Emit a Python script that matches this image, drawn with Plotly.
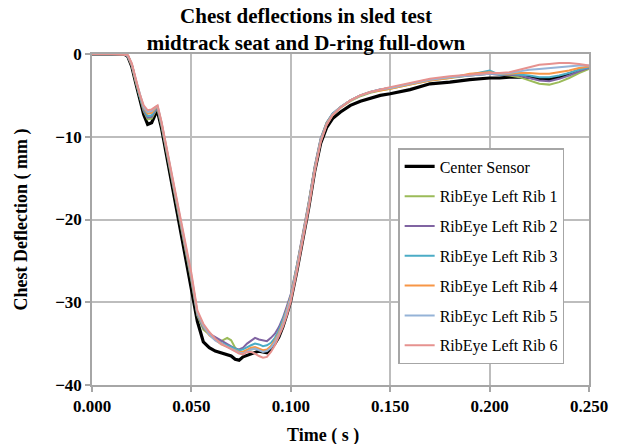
import plotly.graph_objects as go

time_s = [0.000, 0.010, 0.016, 0.018, 0.020, 0.022, 0.024, 0.026, 0.028, 0.030,
          0.032, 0.033, 0.035, 0.038, 0.041, 0.044, 0.047, 0.050, 0.053, 0.056,
          0.059, 0.062, 0.065, 0.068, 0.070, 0.072, 0.074, 0.076, 0.078, 0.080,
          0.082, 0.084, 0.086, 0.088, 0.090, 0.092, 0.094, 0.096, 0.098, 0.100,
          0.103, 0.106, 0.109, 0.112, 0.115, 0.118, 0.121, 0.125, 0.130, 0.135,
          0.140, 0.145, 0.150, 0.160, 0.170, 0.180, 0.190, 0.200, 0.205, 0.210,
          0.215, 0.220, 0.225, 0.230, 0.235, 0.240, 0.245, 0.250]

center_sensor = [0, 0, 0, -0.3, -1.5, -3.5, -5.5, -7.3, -8.5, -8.3,
                 -7.2, -7.0, -9.0, -12.8, -16.6, -20.4, -24.2, -28.5, -32.3, -34.8,
                 -35.5, -35.9, -36.1, -36.4, -36.5, -36.9, -37.0, -36.6, -36.4, -36.3,
                 -36.1, -35.9, -36.0, -36.1, -35.6, -35.0, -34.2, -33.0, -31.5, -29.8,
                 -26.3, -22.6, -18.6, -14.2, -10.8, -8.9, -7.8, -7.0, -6.2, -5.7,
                 -5.3, -5.0, -4.8, -4.3, -3.6, -3.4, -3.1, -2.9, -2.9, -2.8,
                 -2.8, -2.8, -3.0, -3.1, -2.8, -2.4, -1.9, -1.6]

rib1 = [0, 0, 0, -0.3, -1.4, -3.4, -5.3, -6.9, -7.9, -7.8,
        -6.9, -6.7, -8.7, -12.4, -16.1, -19.8, -23.5, -27.4, -31.6, -33.3,
        -33.9, -34.3, -34.7, -34.3, -34.6, -35.5, -35.9, -36.0, -35.8, -35.7,
        -35.6, -35.7, -35.9, -35.8, -35.4, -34.7, -33.8, -32.6, -31.1, -29.5,
        -26.0, -22.3, -18.3, -14.0, -10.5, -8.5, -7.4, -6.5, -5.7, -5.1,
        -4.7, -4.4, -4.2, -3.7, -3.2, -2.9, -2.6, -2.4, -2.5, -2.6,
        -2.8, -3.2, -3.6, -3.7, -3.4, -2.9, -2.3, -1.8]

rib2 = [0, 0, 0, -0.3, -1.4, -3.3, -5.2, -6.8, -7.7, -7.6,
        -6.8, -6.6, -8.6, -12.3, -16.0, -19.7, -23.3, -27.2, -31.5, -33.1,
        -33.8, -34.2, -34.6, -35.0, -35.3, -35.6, -35.7, -35.5, -35.0, -34.6,
        -34.3, -34.5, -34.6, -34.7, -34.3, -33.8, -33.0, -31.9, -30.5, -29.0,
        -25.6, -21.9, -17.9, -13.6, -10.2, -8.3, -7.2, -6.4, -5.6, -5.0,
        -4.6, -4.3, -4.1, -3.6, -3.1, -2.8, -2.6, -2.4, -2.5, -2.5,
        -2.6, -2.9, -3.2, -3.3, -3.0, -2.6, -2.1, -1.7]

rib3 = [0, 0, 0, -0.2, -1.3, -3.2, -5.1, -6.6, -7.5, -7.4,
        -6.6, -6.5, -8.5, -12.2, -15.9, -19.6, -23.2, -27.1, -31.4, -33.0,
        -33.9, -34.5, -34.9, -35.2, -35.4, -35.6, -35.8, -35.7, -35.4, -35.2,
        -35.0, -35.1, -35.3, -35.2, -34.9, -34.3, -33.4, -32.2, -30.8, -29.2,
        -25.7, -22.0, -18.0, -13.7, -10.3, -8.3, -7.2, -6.4, -5.6, -5.0,
        -4.6, -4.3, -4.1, -3.6, -3.1, -2.8, -2.5, -2.0, -2.5, -2.4,
        -2.5, -2.6, -2.8, -2.8, -2.6, -2.3, -1.9, -1.6]

rib4 = [0, 0, 0, -0.2, -1.3, -3.2, -5.0, -6.5, -7.2, -7.1,
        -6.5, -6.4, -8.4, -12.1, -15.8, -19.5, -23.1, -27.0, -31.3, -32.9,
        -34.0, -34.6, -35.1, -35.4, -35.6, -35.8, -36.0, -36.0, -35.7, -35.5,
        -35.4, -35.6, -35.8, -35.7, -35.3, -34.6, -33.7, -32.5, -31.0, -29.3,
        -25.8, -22.1, -18.1, -13.8, -10.4, -8.4, -7.3, -6.4, -5.6, -5.0,
        -4.6, -4.4, -4.2, -3.7, -3.2, -2.9, -2.4, -2.2, -2.4, -2.4,
        -2.3, -2.3, -2.4, -2.4, -2.2, -2.0, -1.7, -1.5]

rib5 = [0, 0, 0, -0.2, -1.2, -3.1, -4.9, -6.4, -7.0, -6.9,
        -6.4, -6.3, -8.3, -12.0, -15.6, -19.3, -22.9, -26.8, -31.2, -32.8,
        -33.9, -34.6, -35.0, -35.4, -35.6, -35.9, -36.1, -36.2, -35.9, -35.7,
        -35.6, -35.8, -36.0, -35.9, -35.5, -34.8, -33.9, -32.7, -31.2, -29.5,
        -26.0, -22.3, -18.3, -14.0, -10.5, -8.5, -7.3, -6.4, -5.6, -5.0,
        -4.6, -4.3, -4.1, -3.6, -3.1, -2.8, -2.6, -2.4, -2.4, -2.3,
        -2.1, -1.9, -1.8, -1.7, -1.6, -1.5, -1.4, -1.4]

rib6 = [0, 0, -0.1, -0.1, -1.1, -3.0, -4.8, -6.2, -6.8, -6.7,
        -6.3, -6.2, -8.2, -11.8, -15.4, -19.1, -22.7, -26.5, -31.0, -32.6,
        -33.6, -34.4, -35.0, -35.4, -35.7, -36.0, -36.2, -36.3, -36.0, -36.0,
        -36.2, -36.5, -36.7, -36.6, -36.0, -35.2, -34.2, -33.0, -31.6, -29.9,
        -26.4, -22.7, -18.7, -14.3, -10.7, -8.6, -7.4, -6.5, -5.6, -5.0,
        -4.6, -4.3, -4.0, -3.5, -3.0, -2.7, -2.5, -2.3, -2.3, -2.2,
        -1.9, -1.6, -1.3, -1.2, -1.1, -1.1, -1.2, -1.4]

series_names = ["Center Sensor", "RibEye Left Rib 1", "RibEye Left Rib 2",
                "RibEye Left Rib 3", "RibEye Left Rib 4", "RibEyc Left Rib 5",
                "RibEye Left Rib 6"]
series_values = [center_sensor, rib1, rib2, rib3, rib4, rib5, rib6]
series_colors = ["#000000", "#9BBB59", "#8064A2", "#4BACC6", "#F79646",
                 "#95B3D7", "#E6928F"]
series_widths = [3.2, 2, 2, 2, 2, 2, 2]

x_ticks = [0.0, 0.05, 0.10, 0.15, 0.20, 0.25]
y_ticks = [0, -10, -20, -30, -40]

SERIF = "Liberation Serif, Times New Roman, serif"
GRID = "#BDBDBD"

fig = go.Figure()
for i, (name, vals, col, w) in enumerate(zip(series_names, series_values,
                                              series_colors, series_widths)):
    fig.add_trace(go.Scatter(x=time_s, y=vals, mode="lines", name=name,
                             legendgroup=f"g{i}",
                             line=dict(color=col, width=w)))

fig.update_layout(
    width=622, height=444,
    margin=dict(l=92, r=33, t=54, b=59),
    paper_bgcolor="white", plot_bgcolor="white",
    font=dict(family=SERIF, color="black"),
    title=dict(text="<b>Chest deflections in sled test<br>midtrack seat and D-ring full-down</b>",
               x=0.492, xanchor="center", y=0.948, yanchor="middle",
               font=dict(family=SERIF, size=21, color="black")),
    legend=dict(x=0.616, y=0.716, xanchor="left", yanchor="top",
                bgcolor="white", bordercolor="#A6A6A6", borderwidth=1.5,
                font=dict(family=SERIF, size=16, color="black"),
                tracegroupgap=6, itemwidth=30),
    showlegend=True,
)

fig.update_xaxes(range=[0, 0.25], tickvals=x_ticks, tickformat=".3f",
                 showgrid=True, gridcolor=GRID, gridwidth=1.5,
                 showline=True, linecolor="#A6A6A6", linewidth=1.5, mirror=True,
                 ticks="outside", ticklen=5, tickcolor="#A6A6A6", tickwidth=1.5,
                 zeroline=False,
                 tickfont=dict(family=SERIF, size=17, color="black", weight="bold"))
fig.update_yaxes(range=[-40, 0], tickvals=y_ticks,
                 showgrid=True, gridcolor=GRID, gridwidth=1.5,
                 showline=True, linecolor="#A6A6A6", linewidth=1.5, mirror=True,
                 ticks="outside", ticklen=5, tickcolor="#A6A6A6", tickwidth=1.5,
                 zeroline=False,
                 tickfont=dict(family=SERIF, size=17, color="black", weight="bold"))

fig.add_annotation(text="<b>Time ( s )</b>", xref="paper", yref="paper",
                   x=0.465, y=-0.154, xanchor="center", yanchor="middle",
                   showarrow=False, font=dict(family=SERIF, size=18, color="black"))
fig.add_annotation(text="<b>Chest Deflection ( mm )</b>", xref="paper", yref="paper",
                   x=-0.141, y=0.5, xanchor="center", yanchor="middle", textangle=-90,
                   showarrow=False, font=dict(family=SERIF, size=18, color="black"))

fig.write_html("out.html")
